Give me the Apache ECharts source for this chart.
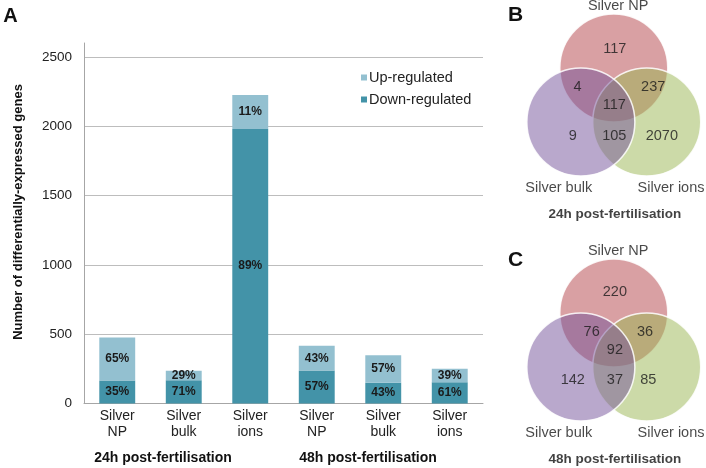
<!DOCTYPE html>
<html>
<head>
<meta charset="utf-8">
<script src="https://cdn.jsdelivr.net/npm/echarts@6/dist/echarts.min.js"></script>
<style>
  html, body { margin: 0; padding: 0; background: #fff; }
  #chart { width: 706px; height: 468px; }
</style>
</head>
<body>
<div id="chart"></div>
<script>
// ---- panel A: stacked bars ----
const categories = ['24h NP', '24h bulk', '24h ions', '48h NP', '48h bulk', '48h ions'];
const categoryLabels = ['Silver\nNP', 'Silver\nbulk', 'Silver\nions', 'Silver\nNP', 'Silver\nbulk', 'Silver\nions'];
const downRegulated = [166, 167, 1980, 237, 149, 152];
const upRegulated = [309, 68, 245, 178, 198, 98];
const groupLabels = ['24h post-fertilisation', '48h post-fertilisation'];
const yMax = 2600;
const yStep = 500;

// ---- panels B, C: venn counts ----
// order: NP only, NP+bulk, NP+ions, all three, bulk only, bulk+ions, ions only
const setNames = ['Silver NP', 'Silver bulk', 'Silver ions'];
const venn24h = [117, 4, 237, 117, 9, 105, 2070];
const venn48h = [220, 76, 36, 92, 142, 37, 85];

// venn layout (units of circle radius)
const circleCenters = [[0, 0.667], [0.61, -0.333], [-0.61, -0.333]]; // NP, ions, bulk
const circleColors = ['rgba(179,65,71,0.5)', 'rgba(153,181,81,0.5)', 'rgba(115,81,153,0.5)'];
const anchors24h = [[0.02, 1.02], [-0.67, 0.31], [0.73, 0.31], [0.01, -0.01], [-0.76, -0.59], [0.01, -0.59], [0.89, -0.59]];
const anchors48h = [[0.02, 1.06], [-0.41, 0.32], [0.58, 0.32], [0.02, -0.01], [-0.76, -0.57], [0.02, -0.57], [0.64, -0.57]];
const setNameAnchors = [[0.08, 1.82], [-1.02, -1.55], [1.06, -1.55]];
const titleAnchor = [0.02, -2.04];

const FONT = 'Liberation Sans, Arial, sans-serif';
const UP_COLOR = '#93c0d0';
const DOWN_COLOR = '#4393a8';

const chart = echarts.init(document.getElementById('chart'));

function pctLabel(values) {
  return (p) => {
    const total = downRegulated[p.dataIndex] + upRegulated[p.dataIndex];
    return Math.round(values[p.dataIndex] / total * 100) + '%';
  };
}

// invisible point carrying only a text label
function textSeries(idx, data, label) {
  return {
    type: 'scatter',
    xAxisIndex: idx, yAxisIndex: idx,
    silent: true,
    clip: false,
    symbolSize: 1,
    z: 3,
    itemStyle: { color: 'rgba(0,0,0,0)' },
    label: Object.assign({ show: true, position: 'inside', fontFamily: FONT, color: '#1a1a1a' }, label),
    data
  };
}

function vennSeries(idx, counts, anchors, title) {
  return [
    {
      type: 'scatter',
      xAxisIndex: idx, yAxisIndex: idx,
      silent: true,
      clip: false,
      symbolSize: 108,
      z: 1,
      itemStyle: { borderColor: 'rgba(255,255,255,0.85)', borderWidth: 1.5, opacity: 1 },
      data: circleCenters.map((c, i) => ({ value: c, itemStyle: { color: circleColors[i] } }))
    },
    textSeries(idx, counts.map((v, i) => [anchors[i][0], anchors[i][1], v]),
      { formatter: (p) => String(p.value[2]), fontSize: 14.5 }),
    textSeries(idx, setNames.map((n, i) => ({ name: n, value: setNameAnchors[i] })),
      { formatter: '{b}', fontSize: 14.5 }),
    textSeries(idx, [{ name: title, value: titleAnchor }],
      { formatter: '{b}', fontSize: 13.5, fontWeight: 'bold', color: '#111' })
  ];
}

const hiddenValueAxis = (gridIndex) => ({
  type: 'value', gridIndex, min: -1.5, max: 1.5, show: false
});

const option = {
  animation: false,
  backgroundColor: '#fff',
  textStyle: { fontFamily: FONT },
  grid: [
    { left: 84, right: 223, top: 43, bottom: 64.6 },
    { left: 532.8, top: 23, width: 162, height: 162 },
    { left: 532.8, top: 268, width: 162, height: 162 }
  ],
  legend: {
    orient: 'vertical',
    left: 356,
    top: 65,
    itemWidth: 6,
    itemHeight: 6,
    itemGap: 7,
    icon: 'rect',
    data: ['Up-regulated', 'Down-regulated'],
    textStyle: { fontFamily: FONT, fontSize: 14.5, color: '#222', padding: [0, 0, 0, -3] }
  },
  xAxis: [
    {
      type: 'category',
      gridIndex: 0,
      data: categories,
      axisLine: { lineStyle: { color: '#a6a6a6', width: 1 } },
      axisTick: { show: false },
      axisLabel: {
        formatter: (v, i) => categoryLabels[i],
        fontFamily: FONT, fontSize: 14, color: '#222', lineHeight: 16.5, margin: 4
      }
    },
    hiddenValueAxis(1),
    hiddenValueAxis(2)
  ],
  yAxis: [
    {
      type: 'value',
      gridIndex: 0,
      min: 0,
      max: yMax,
      interval: yStep,
      axisLine: { show: true, lineStyle: { color: '#a6a6a6', width: 1 } },
      axisTick: { show: false },
      axisLabel: {
        showMaxLabel: false,
        formatter: (v) => String(v),
        fontFamily: FONT, fontSize: 13.5, color: '#222', margin: 12
      },
      splitLine: {
        lineStyle: {
          color: ['#bdbdbd', '#bdbdbd', '#bdbdbd', '#bdbdbd', '#bdbdbd', '#bdbdbd', 'rgba(0,0,0,0)'],
          width: 1
        }
      }
    },
    hiddenValueAxis(1),
    hiddenValueAxis(2)
  ],
  series: [
    {
      name: 'Down-regulated',
      type: 'bar',
      stack: 'genes',
      barWidth: '54%',
      data: downRegulated,
      itemStyle: { color: DOWN_COLOR },
      label: {
        show: true, position: 'inside', formatter: pctLabel(downRegulated),
        fontFamily: FONT, fontSize: 12, fontWeight: 'bold', color: '#1a1a1a'
      }
    },
    {
      name: 'Up-regulated',
      type: 'bar',
      stack: 'genes',
      barWidth: '54%',
      data: upRegulated,
      itemStyle: { color: UP_COLOR },
      label: {
        show: true, position: 'inside', formatter: pctLabel(upRegulated),
        fontFamily: FONT, fontSize: 12, fontWeight: 'bold', color: '#1a1a1a'
      }
    },
    ...vennSeries(1, venn24h, anchors24h, groupLabels[0]),
    ...vennSeries(2, venn48h, anchors48h, groupLabels[1])
  ],
  graphic: [
    {
      type: 'text', x: 18, y: 212, rotation: Math.PI / 2,
      style: {
        text: 'Number of differentially-expressed genes',
        font: 'bold 13px ' + FONT, fill: '#111',
        textAlign: 'center', textVerticalAlign: 'middle', align: 'center', verticalAlign: 'middle'
      }
    },
    {
      type: 'text', x: 163, y: 458,
      style: {
        text: groupLabels[0], font: 'bold 14px ' + FONT, fill: '#111',
        textAlign: 'center', textVerticalAlign: 'middle', align: 'center', verticalAlign: 'middle'
      }
    },
    {
      type: 'text', x: 368, y: 458,
      style: {
        text: groupLabels[1], font: 'bold 14px ' + FONT, fill: '#111',
        textAlign: 'center', textVerticalAlign: 'middle', align: 'center', verticalAlign: 'middle'
      }
    },
    { type: 'text', x: 10.5, y: 16, style: { text: 'A', font: 'bold 20px ' + FONT, fill: '#111', textAlign: 'center', textVerticalAlign: 'middle', align: 'center', verticalAlign: 'middle' } },
    { type: 'text', x: 515.5, y: 15.5, style: { text: 'B', font: 'bold 21px ' + FONT, fill: '#111', textAlign: 'center', textVerticalAlign: 'middle', align: 'center', verticalAlign: 'middle' } },
    { type: 'text', x: 515.5, y: 260.5, style: { text: 'C', font: 'bold 21px ' + FONT, fill: '#111', textAlign: 'center', textVerticalAlign: 'middle', align: 'center', verticalAlign: 'middle' } }
  ]
};

chart.setOption(option);
</script>
</body>
</html>
